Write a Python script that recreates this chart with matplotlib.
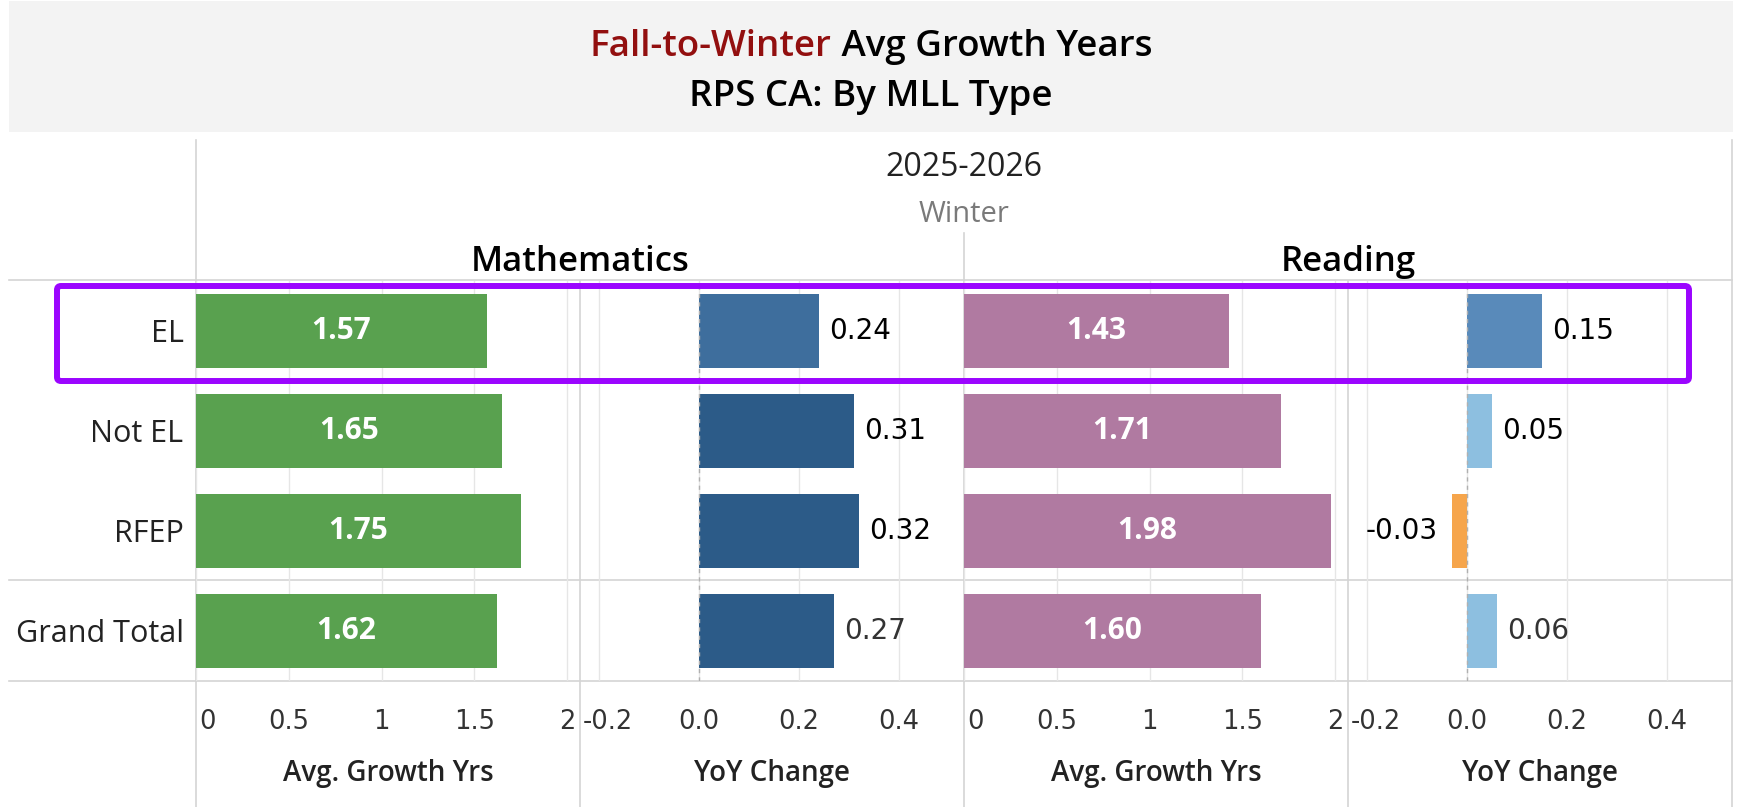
import matplotlib.pyplot as plt
from matplotlib.patches import Rectangle, FancyBboxPatch
import matplotlib.transforms as mtransforms

# data
groups = ['EL', 'Not EL', 'RFEP', 'Grand Total']
math_growth = [1.57, 1.65, 1.75, 1.62]
math_yoy = [0.24, 0.31, 0.32, 0.27]
read_growth = [1.43, 1.71, 1.98, 1.60]
read_yoy = [0.15, 0.05, -0.03, 0.06]

growth_ticks = [0, 0.5, 1, 1.5, 2]
growth_ticklabels = ['0', '0.5', '1', '1.5', '2']
yoy_ticks = [-0.2, 0.0, 0.2, 0.4]
yoy_ticklabels = ['-0.2', '0.0', '0.2', '0.4']

math_yoy_colors = ['#3e6e9d', '#2c5b88', '#2c5b88', '#2c5b88']
read_yoy_colors = ['#598aba', '#8dbfe0', '#f6a54b', '#8dbfe0']
green = '#59a14f'
pink = '#b07aa1'

plt.rcParams['font.family'] = ['Open Sans', 'DejaVu Sans']

W, H = 1737, 807
fig = plt.figure(figsize=(W / 100, H / 100), dpi=100)

bg = fig.add_axes([0, 0, 1, 1], zorder=0)
bg.set_xlim(0, W)
bg.set_ylim(H, 0)
bg.axis('off')

# title band
bg.add_patch(Rectangle((9, 1), 1724, 131, color='#f3f3f3', lw=0))

line_col = '#d4d4d4'
for y in [280, 580, 681]:
    bg.plot([9, 1732], [y, y], color=line_col, lw=1.2)
bg.plot([196, 196], [140, 807], color=line_col, lw=1.2)
bg.plot([1732, 1732], [140, 807], color=line_col, lw=1.2)
bg.plot([964, 964], [233, 807], color=line_col, lw=1.2)
for x in [580, 1348]:
    bg.plot([x, x], [281, 807], color=line_col, lw=1.2)

# header texts
bg.text(964, 168, '2025-2026', ha='center', va='center', fontsize=23, color='#222222')
bg.text(964, 214, 'Winter', ha='center', va='center', fontsize=21, color='#7a7a7a')
bg.text(580, 262, 'Mathematics', ha='center', va='center', fontsize=25, fontweight='semibold')
bg.text(1348, 262, 'Reading', ha='center', va='center', fontsize=25, fontweight='semibold')

# two-colour title
t1 = bg.text(0, 47, 'Fall-to-Winter', ha='left', va='center', fontsize=26.5,
             fontweight='semibold', color='#920f0f')
t2 = bg.text(0, 47, ' Avg Growth Years', ha='left', va='center', fontsize=26.5,
             fontweight='semibold', color='black')
bg.text(871, 97, 'RPS CA: By MLL Type', ha='center', va='center', fontsize=26.5,
        fontweight='semibold', color='black')
fig.canvas.draw()
r = fig.canvas.get_renderer()
w1 = t1.get_window_extent(r).width
w2 = t2.get_window_extent(r).width
x0 = 871 - (w1 + w2) / 2
t1.set_x(x0)
t2.set_x(x0 + w1)

edges = [196, 580, 964, 1348, 1732]
top, bottom = 281, 681
num_font = 'DejaVu Sans'


def panel(i):
    x0, x1 = edges[i], edges[i + 1]
    ax = fig.add_axes([x0 / W, 1 - bottom / H, (x1 - x0) / W, (bottom - top) / H], zorder=1)
    ax.patch.set_visible(False)
    for s in ax.spines.values():
        s.set_visible(False)
    ax.set_ylim(len(groups) - 0.5, -0.5)
    return ax


def bottom_axis(ax, ticks, labels, title, xlim):
    ax.set_xlim(*xlim)
    ax.set_xticks(ticks)
    ax.set_xticklabels([])
    ax.tick_params(axis='x', length=0)
    ax.grid(axis='x', color='#e6e6e6', lw=1)
    ax.set_axisbelow(True)
    tr = mtransforms.blended_transform_factory(ax.transData, ax.transAxes)
    step = (xlim[1] - xlim[0]) / 384
    for k, (t, lab) in enumerate(zip(ticks, labels)):
        if k == 0:
            ax.text(xlim[0] + 3 * step, -41 / 400, lab, transform=tr, ha='left', va='center',
                    fontsize=18.5, color='#333333', family=num_font)
        else:
            ax.text(t, -41 / 400, lab, transform=tr, ha='center', va='center',
                    fontsize=18.5, color='#333333', family=num_font)
    ax.text(0.5, -93 / 400, title, transform=ax.transAxes, ha='center', va='center',
            fontsize=20, fontweight='semibold', color='#222222')


ypos = list(range(len(groups)))
growth_lim = (0, 2.07)
yoy_lim = (-0.238, 0.53)

for i, (vals, col) in enumerate([(math_growth, green), (read_growth, pink)]):
    ax = panel(2 * i)
    ax.barh(ypos, vals, height=0.74, color=col)
    for y, v in zip(ypos, vals):
        ax.text(v / 2, y, f'{v:.2f}', ha='center', va='center', color='white',
                fontsize=21.5, fontweight='bold')
    bottom_axis(ax, growth_ticks, growth_ticklabels, 'Avg. Growth Yrs', growth_lim)
    if i == 0:
        ax.set_yticks(ypos)
        ax.set_yticklabels(groups, fontsize=22, color='#222222')
        ax.tick_params(axis='y', length=0, pad=9)
    else:
        ax.set_yticks([])

for i, (vals, cols) in enumerate([(math_yoy, math_yoy_colors), (read_yoy, read_yoy_colors)]):
    ax = panel(2 * i + 1)
    ax.barh(ypos, vals, height=0.74, color=cols)
    ax.axvline(0, color='#b0b0b0', lw=1, ls=(0, (3, 3)), zorder=3)
    for y, v in zip(ypos, vals):
        c = '#333333' if groups[y] == 'Grand Total' else 'black'
        if v >= 0:
            ax.annotate(f'{v:.2f}', (v, y), xytext=(7, 0), textcoords='offset points',
                        ha='left', va='center', fontsize=20, color=c, family=num_font)
        else:
            ax.annotate(f'{v:.2f}', (v, y), xytext=(-10, 0), textcoords='offset points',
                        ha='right', va='center', fontsize=20, color=c, family=num_font)
    bottom_axis(ax, yoy_ticks, yoy_ticklabels, 'YoY Change', yoy_lim)
    ax.set_yticks([])

# highlight box around the EL row
fg = fig.add_axes([0, 0, 1, 1], zorder=3)
fg.set_xlim(0, W)
fg.set_ylim(H, 0)
fg.axis('off')
fg.add_patch(FancyBboxPatch((57, 286), 1632, 95, boxstyle='round,pad=0,rounding_size=4',
                            fill=False, ec='#9b05ff', lw=4.3))

fig.savefig('out.png', dpi=100)
